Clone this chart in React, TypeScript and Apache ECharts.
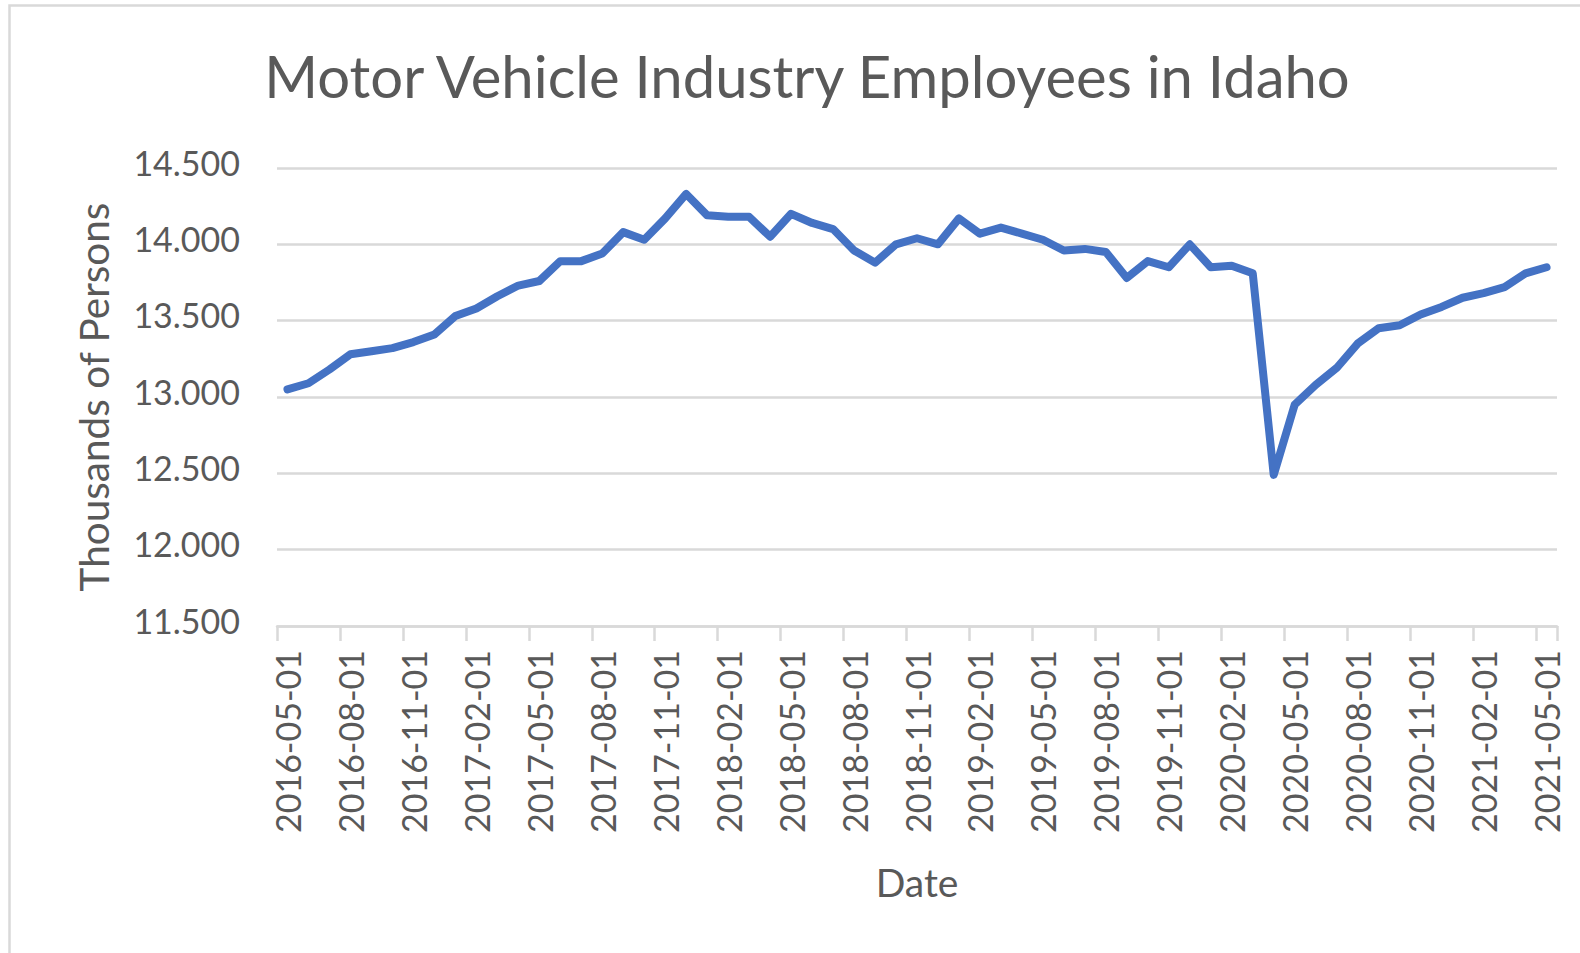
import React, { useEffect, useRef } from "react";
import * as echarts from "echarts";

const titleText = "Motor Vehicle Industry Employees in Idaho";
const xAxisName = "Date";
const yAxisName = "Thousands of Persons";

const categories = [
  "2016-05-01", "2016-06-01", "2016-07-01", "2016-08-01", "2016-09-01", "2016-10-01", "2016-11-01", "2016-12-01",
  "2017-01-01", "2017-02-01", "2017-03-01", "2017-04-01", "2017-05-01", "2017-06-01", "2017-07-01", "2017-08-01",
  "2017-09-01", "2017-10-01", "2017-11-01", "2017-12-01", "2018-01-01", "2018-02-01", "2018-03-01", "2018-04-01",
  "2018-05-01", "2018-06-01", "2018-07-01", "2018-08-01", "2018-09-01", "2018-10-01", "2018-11-01", "2018-12-01",
  "2019-01-01", "2019-02-01", "2019-03-01", "2019-04-01", "2019-05-01", "2019-06-01", "2019-07-01", "2019-08-01",
  "2019-09-01", "2019-10-01", "2019-11-01", "2019-12-01", "2020-01-01", "2020-02-01", "2020-03-01", "2020-04-01",
  "2020-05-01", "2020-06-01", "2020-07-01", "2020-08-01", "2020-09-01", "2020-10-01", "2020-11-01", "2020-12-01",
  "2021-01-01", "2021-02-01", "2021-03-01", "2021-04-01", "2021-05-01",
];

const employees = [
  13.05, 13.09, 13.18, 13.28, 13.30, 13.32, 13.36, 13.41,
  13.53, 13.58, 13.66, 13.73, 13.76, 13.89, 13.89, 13.94,
  14.08, 14.03, 14.17, 14.33, 14.19, 14.18, 14.18, 14.05,
  14.20, 14.14, 14.10, 13.96, 13.88, 14.00, 14.04, 14.00,
  14.17, 14.07, 14.11, 14.07, 14.03, 13.96, 13.97, 13.95,
  13.78, 13.89, 13.85, 14.00, 13.85, 13.86, 13.81, 12.49,
  12.95, 13.08, 13.19, 13.35, 13.45, 13.47, 13.54, 13.59,
  13.65, 13.68, 13.72, 13.81, 13.85,
];

const yMin = 11.5;
const yMax = 14.5;
const yStep = 0.5;

const FONT = "Lato, 'Open Sans', sans-serif";
const TEXT = "#595959";
const GRID = "#d9d9d9";

export default function App() {
  const ref = useRef<HTMLDivElement>(null);

  useEffect(() => {
    if (!ref.current) return;
    const chart = echarts.init(ref.current, undefined, { renderer: "svg" });
    chart.setOption({
      animation: false,
      backgroundColor: "#ffffff",
      textStyle: { fontFamily: FONT },
      title: {
        text: titleText,
        left: 802,
        top: 41,
        textAlign: "center",
        textStyle: { fontFamily: FONT, fontSize: 58, fontWeight: "normal", color: TEXT },
      },
      graphic: [
        {
          type: "rect",
          shape: { x: 9.5, y: 5.5, width: 1640, height: 1000 },
          style: { fill: "none", stroke: GRID, lineWidth: 2.5 },
          silent: true,
        },
      ],
      grid: { left: 277, top: 168, width: 1280, height: 458, containLabel: false },
      xAxis: {
        type: "category",
        data: categories,
        boundaryGap: true,
        name: xAxisName,
        nameLocation: "middle",
        nameGap: 236,
        nameTextStyle: { fontFamily: FONT, fontSize: 39, color: TEXT },
        axisLine: { show: true, lineStyle: { color: GRID, width: 2.5 } },
        axisTick: { show: true, interval: 2, length: 15, lineStyle: { color: GRID, width: 2.5 } },
        axisLabel: {
          interval: 2,
          rotate: 90,
          margin: 24,
          fontFamily: FONT,
          fontSize: 34,
          color: TEXT,
        },
        splitLine: { show: false },
      },
      yAxis: {
        type: "value",
        min: yMin,
        max: yMax,
        interval: yStep,
        name: yAxisName,
        nameLocation: "middle",
        nameGap: 163,
        nameRotate: 90,
        nameTextStyle: { fontFamily: FONT, fontSize: 40.5, color: TEXT },
        axisLine: { show: false },
        axisTick: { show: false },
        axisLabel: {
          margin: 37,
          fontFamily: FONT,
          fontSize: 34,
          color: TEXT,
          verticalAlign: "bottom",
          lineHeight: 12,
          formatter: (v: number) => v.toFixed(3),
        },
        splitLine: { show: true, lineStyle: { color: GRID, width: 2.5 } },
      },
      series: [
        {
          type: "line",
          data: employees,
          showSymbol: false,
          symbol: "none",
          lineStyle: { color: "#4472c4", width: 8, cap: "round", join: "round" },
          itemStyle: { color: "#4472c4" },
        },
      ],
    });
    return () => chart.dispose();
  }, []);

  return (
    <div
      ref={ref}
      style={{ position: "fixed", left: 0, top: 0, width: 1580, height: 953, background: "#ffffff" }}
    />
  );
}
